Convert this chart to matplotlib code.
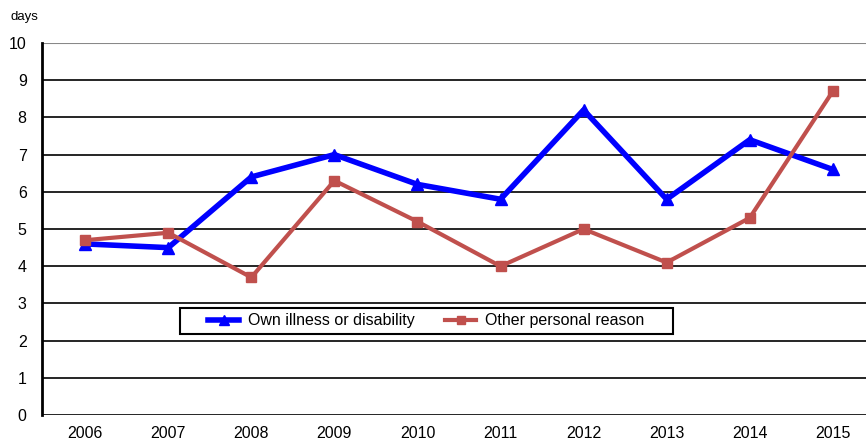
import matplotlib.pyplot as plt
from matplotlib.patches import Rectangle
import numpy as np

plt.rcParams['font.family'] = ['Liberation Sans', 'DejaVu Sans']

years = ['2006', '2007', '2008', '2009', '2010', '2011', '2012', '2013', '2014', '2015']
own_illness = [4.6, 4.5, 6.4, 7.0, 6.2, 5.8, 8.2, 5.8, 7.4, 6.6]
other_reason = [4.7, 4.9, 3.7, 6.3, 5.2, 4.0, 5.0, 4.1, 5.3, 8.7]

x = np.arange(len(years))

fig = plt.figure(figsize=(8.66, 4.43), dpi=100)
ax = fig.add_axes([0.0485, 0.063, 0.9515, 0.840])

# horizontal grid, top line lighter
for v in range(0, 10):
    ax.axhline(v, color='black', linewidth=1.2, zorder=1)
ax.axhline(10, color='#888888', linewidth=1.5, zorder=1)

ax.plot(x, own_illness, color='#0000FF', linewidth=4, marker='^', markersize=9,
        label='Own illness or disability', zorder=3)
ax.plot(x, other_reason, color='#C0504D', linewidth=3, marker='s', markersize=7,
        label='Other personal reason', zorder=3)

ax.set_xlim(-0.52, 9.4)
ax.set_ylim(0, 10)
ax.set_xticks(x)
ax.set_xticklabels(years)
ax.set_yticks(range(0, 11))
ax.tick_params(axis='both', length=0, labelsize=11.5)
ax.tick_params(axis='x', pad=8)
ax.tick_params(axis='y', pad=11)

for side in ['top', 'right', 'bottom']:
    ax.spines[side].set_visible(False)
ax.spines['left'].set_linewidth(2)
ax.spines['left'].set_color('black')

fig.text(0.012, 0.962, 'days', fontsize=9.5, ha='left', va='center')

# legend box drawn separately for wider side padding
box = Rectangle((180 / 866, 1 - 334 / 443), 493 / 866, 26 / 443, transform=fig.transFigure,
                facecolor='white', edgecolor='black', linewidth=1.5, zorder=4, clip_on=False)
ax.add_patch(box)
leg = ax.legend(loc='center', bbox_to_anchor=(426.5 / 866, 1 - 321 / 443),
                bbox_transform=fig.transFigure, ncol=2, fontsize=11.5, frameon=False,
                handlelength=1.9, handletextpad=0.6, columnspacing=1.9, markerscale=0.85)
leg.set_zorder(5)

fig.savefig('out.png', dpi=100)
